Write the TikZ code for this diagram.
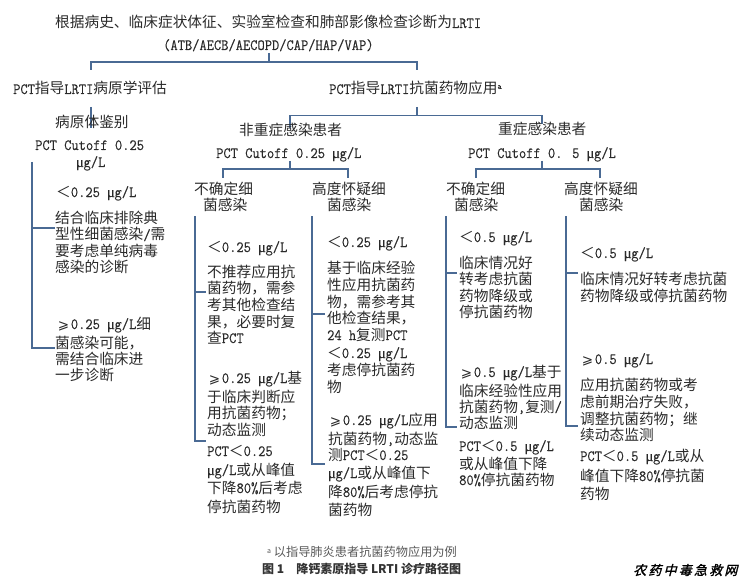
\documentclass[tikz,border=0pt]{standalone}
\usepackage{fontspec}
\setmainfont{Noto Sans CJK SC}
\newfontfamily\djv{DejaVu Sans}
\newfontfamily\wmark[FakeSlant=0.25,FakeBold=1.5]{Noto Sans CJK SC}
\newfontfamily\lat[FakeStretch=0.9,FakeBold=0.25]{Latin Modern Mono}
\newfontfamily\mufont[FakeBold=0.2]{Liberation Serif}
\newcommand\la[1]{{\lat\fontsize{15.65}{15.65}\selectfont #1}}
\newcommand\uu{\makebox[7.4pt]{\mufont\fontsize{15}{15}\selectfont μ}}
\newcommand\GE{\makebox[14.7pt]{\djv\fontsize{13.5}{14}\selectfont ⩾}}
\newcommand\LT{＜}
\newcommand\ug{\uu\la{g/L}}
\definecolor{lnblue}{HTML}{4A6A94}
\definecolor{ink}{HTML}{2A2A2A}
\tikzset{
  txt/.style={anchor=base west,inner sep=0pt,text=ink,font=\fontsize{14.7}{14.7}\selectfont},
  conn/.style={draw=lnblue,line width=1.4pt,line cap=butt,line join=miter},
  foot/.style={anchor=base west,inner sep=0pt,text=black!65,font=\fontsize{12.2}{12.2}\selectfont},
  captext/.style={anchor=base west,inner sep=0pt,text=black!80,font=\fontsize{12}{12}\selectfont\bfseries},
  wm/.style={anchor=base west,inner sep=0pt,text=black,font=\fontsize{13}{13}\wmark\selectfont}
}
\newcommand\tl[4]{\node[txt] (#1) at (#2,#3+5) {#4};}
\begin{document}
\begin{tikzpicture}[x=1pt,y=-1pt]
\useasboundingbox (0,0) rectangle (742,583);
% connectors
\coordinate (rootS) at (269,53);
\coordinate (busRoot) at (269,62);
\coordinate (leftT) at (91,70);
\coordinate (rightT) at (417,70);
\coordinate (leftB) at (91,107);
\coordinate (leftD) at (91,128);
\coordinate (rightB) at (417,107);
\coordinate (busR) at (417,115.5);
\coordinate (nsT) at (290,128);
\coordinate (sT) at (542,124);
\coordinate (nsS) at (290,161);
\coordinate (nsJ) at (290,169);
\coordinate (aT) at (223,178);
\coordinate (bT) at (348,178);
\coordinate (sS) at (542,161);
\coordinate (sJ) at (542,169);
\coordinate (cT) at (476,178);
\coordinate (dT) at (600,178);
\draw[conn] (rootS) -- (busRoot);
\draw[conn] (leftT) |- (busRoot) -| (rightT);
\draw[conn] (leftB) -- (leftD);
\draw[conn] (rightB) -- (busR);
\draw[conn] (nsT) |- (busR) -| (sT);
\draw[conn] (nsS) -- (nsJ);
\draw[conn] (aT) |- (nsJ) -| (bT);
\draw[conn] (sS) -- (sJ);
\draw[conn] (cT) |- (sJ) -| (dT);
% bracket columns
\coordinate (p0) at (32,162); \coordinate (p1) at (55,228); \coordinate (p2) at (55,348);
\draw[conn] (p0) |- (p2); \draw[conn] (p0 |- p1) -- (p1);
\coordinate (a0) at (195,216); \coordinate (a1) at (206,292); \coordinate (a2) at (206,441);
\draw[conn] (a0) |- (a2); \draw[conn] (a0 |- a1) -- (a1);
\coordinate (b0) at (312,216); \coordinate (b1) at (325,314); \coordinate (b2) at (325,464);
\draw[conn] (b0) |- (b2); \draw[conn] (b0 |- b1) -- (b1);
\coordinate (c0) at (446,216); \coordinate (c1) at (457,273); \coordinate (c2) at (457,427);
\draw[conn] (c0) |- (c2); \draw[conn] (c0 |- c1) -- (c1);
\coordinate (d0) at (566,216); \coordinate (d1) at (578,273); \coordinate (d2) at (578,426);
\draw[conn] (d0) |- (d2); \draw[conn] (d0 |- d1) -- (d1);
% top
\tl{t1}{55}{23}{根据病史、临床症状体征、实验室检查和肺部影像检查诊断为\la{LRTI}}
\tl{t2}{163}{45}{\la{(ATB/AECB/AECOPD/CAP/HAP/VAP)}}
\tl{h1}{13}{89}{\la{PCT}指导\la{LRTI}病原学评估}
\tl{h2}{329}{89}{\la{PCT}指导\la{LRTI}抗菌药物应用\raisebox{5pt}{\lat\fontsize{9}{9}\selectfont a}}
% left column
\tl{l1}{55}{123}{病原体鉴别}
\tl{l2}{35}{145}{\la{PCT Cutoff 0.25}}
\tl{l3}{76}{162}{\ug}
\tl{l4}{56}{192}{\LT\la{0.25 }\ug}
\tl{l5}{55}{218}{结合临床排除典}
\tl{l6}{55}{235}{型性细菌感染\la{/}需}
\tl{l7}{55}{251}{要考虑单纯病毒}
\tl{l8}{55}{267}{感染的诊断}
\tl{l9}{56}{324}{\GE\la{0.25 }\ug 细}
\tl{l10}{55}{343}{菌感染可能，}
\tl{l11}{55}{359}{需结合临床进}
\tl{l12}{55}{375}{一步诊断}
% non-severe / severe heads
\tl{n1}{239}{131}{非重症感染患者}
\tl{n2}{216}{153}{\la{PCT Cutoff 0.25 }\ug}
\tl{s1}{498}{130}{重症感染患者}
\tl{s2}{468}{153}{\la{PCT Cutoff 0. 5 }\ug}
% column heads
\tl{ah1}{194}{189}{不确定细}
\tl{ah2}{203}{206}{菌感染}
\tl{bh1}{312}{189}{高度怀疑细}
\tl{bh2}{327}{206}{菌感染}
\tl{ch1}{446}{189}{不确定细}
\tl{ch2}{454}{206}{菌感染}
\tl{dh1}{564}{189}{高度怀疑细}
\tl{dh2}{579}{206}{菌感染}
% column A
\tl{a01}{207}{247}{\LT\la{0.25 }\ug}
\tl{a02}{207}{272}{不推荐应用抗}
\tl{a03}{207}{288}{菌药物，需参}
\tl{a04}{207}{305}{考其他检查结}
\tl{a05}{207}{322}{果，必要时复}
\tl{a06}{207}{338}{查\la{PCT}}
\tl{a07}{207}{378}{\GE\la{0.25 }\ug 基}
\tl{a08}{207}{397}{于临床判断应}
\tl{a09}{207}{413}{用抗菌药物；}
\tl{a10}{207}{430}{动态监测}
\tl{a11}{207}{451}{\la{PCT}\LT\la{0.25}}
\tl{a12}{207}{470}{\ug 或从峰值}
\tl{a13}{207}{488}{下降\la{80\%}后考虑}
\tl{a14}{207}{507}{停抗菌药物}
% column B
\tl{b01}{327}{242}{\LT\la{0.25 }\ug}
\tl{b02}{327}{268}{基于临床经验}
\tl{b03}{327}{285}{性应用抗菌药}
\tl{b04}{327}{302}{物，需参考其}
\tl{b05}{327}{318}{他检查结果，}
\tl{b06}{327}{335}{\la{24 h}复测\la{PCT}}
\tl{b07}{327}{353}{\LT\la{0.25 }\ug}
\tl{b08}{327}{370}{考虑停抗菌药}
\tl{b09}{327}{387}{物}
\tl{b10}{328}{420}{\GE\la{0.25 }\ug 应用}
\tl{b11}{328}{439}{抗菌药物\la{,}动态监}
\tl{b12}{328}{455}{测\la{PCT}\LT\la{0.25}}
\tl{b13}{328}{473}{\ug 或从峰值下}
\tl{b14}{328}{492}{降\la{80\%}后考虑停抗}
\tl{b15}{328}{510}{菌药物}
% column C
\tl{c01}{459}{237}{\LT\la{0.5 }\ug}
\tl{c02}{459}{263}{临床情况好}
\tl{c03}{459}{279}{转考虑抗菌}
\tl{c04}{459}{296}{药物降级或}
\tl{c05}{459}{312}{停抗菌药物}
\tl{c06}{459}{372}{\GE\la{0.5 }\ug 基于}
\tl{c07}{459}{391}{临床经验性应用}
\tl{c08}{459}{407}{抗菌药物\la{,}复测\la{/}}
\tl{c09}{459}{423}{动态监测}
\tl{c10}{459}{446}{\la{PCT}\LT\la{0.5 }\ug}
\tl{c11}{459}{464}{或从峰值下降}
\tl{c12}{459}{480}{\la{80\%}停抗菌药物}
% column D
\tl{d01}{580}{253}{\LT\la{0.5 }\ug}
\tl{d02}{580}{279}{临床情况好转考虑抗菌}
\tl{d03}{580}{296}{药物降级或停抗菌药物}
\tl{d04}{580}{359}{\GE\la{0.5 }\ug}
\tl{d05}{580}{385}{应用抗菌药物或考}
\tl{d06}{580}{402}{虑前期治疗失败，}
\tl{d07}{580}{419}{调整抗菌药物；继}
\tl{d08}{580}{435}{续动态监测}
\tl{d09}{580}{456}{\la{PCT}\LT\la{0.5 }\ug 或从}
\tl{d10}{580}{476}{峰值下降\la{80\%}停抗菌}
\tl{d11}{580}{494}{药物}
% footer
\node[foot] (fn) at (267,556) {\raisebox{3pt}{\fontsize{7}{7}\selectfont a} 以指导肺炎患者抗菌药物应用为例};
\node[captext] (cp) at (262,573) {图 1\quad 降钙素原指导 LRTI 诊疗路径图};
\node[wm] (wmk) at (633,575) {农\hspace{2.2pt}药\hspace{2.2pt}中\hspace{2.2pt}毒\hspace{2.2pt}急\hspace{2.2pt}救\hspace{2.2pt}网};
\end{tikzpicture}
\end{document}
